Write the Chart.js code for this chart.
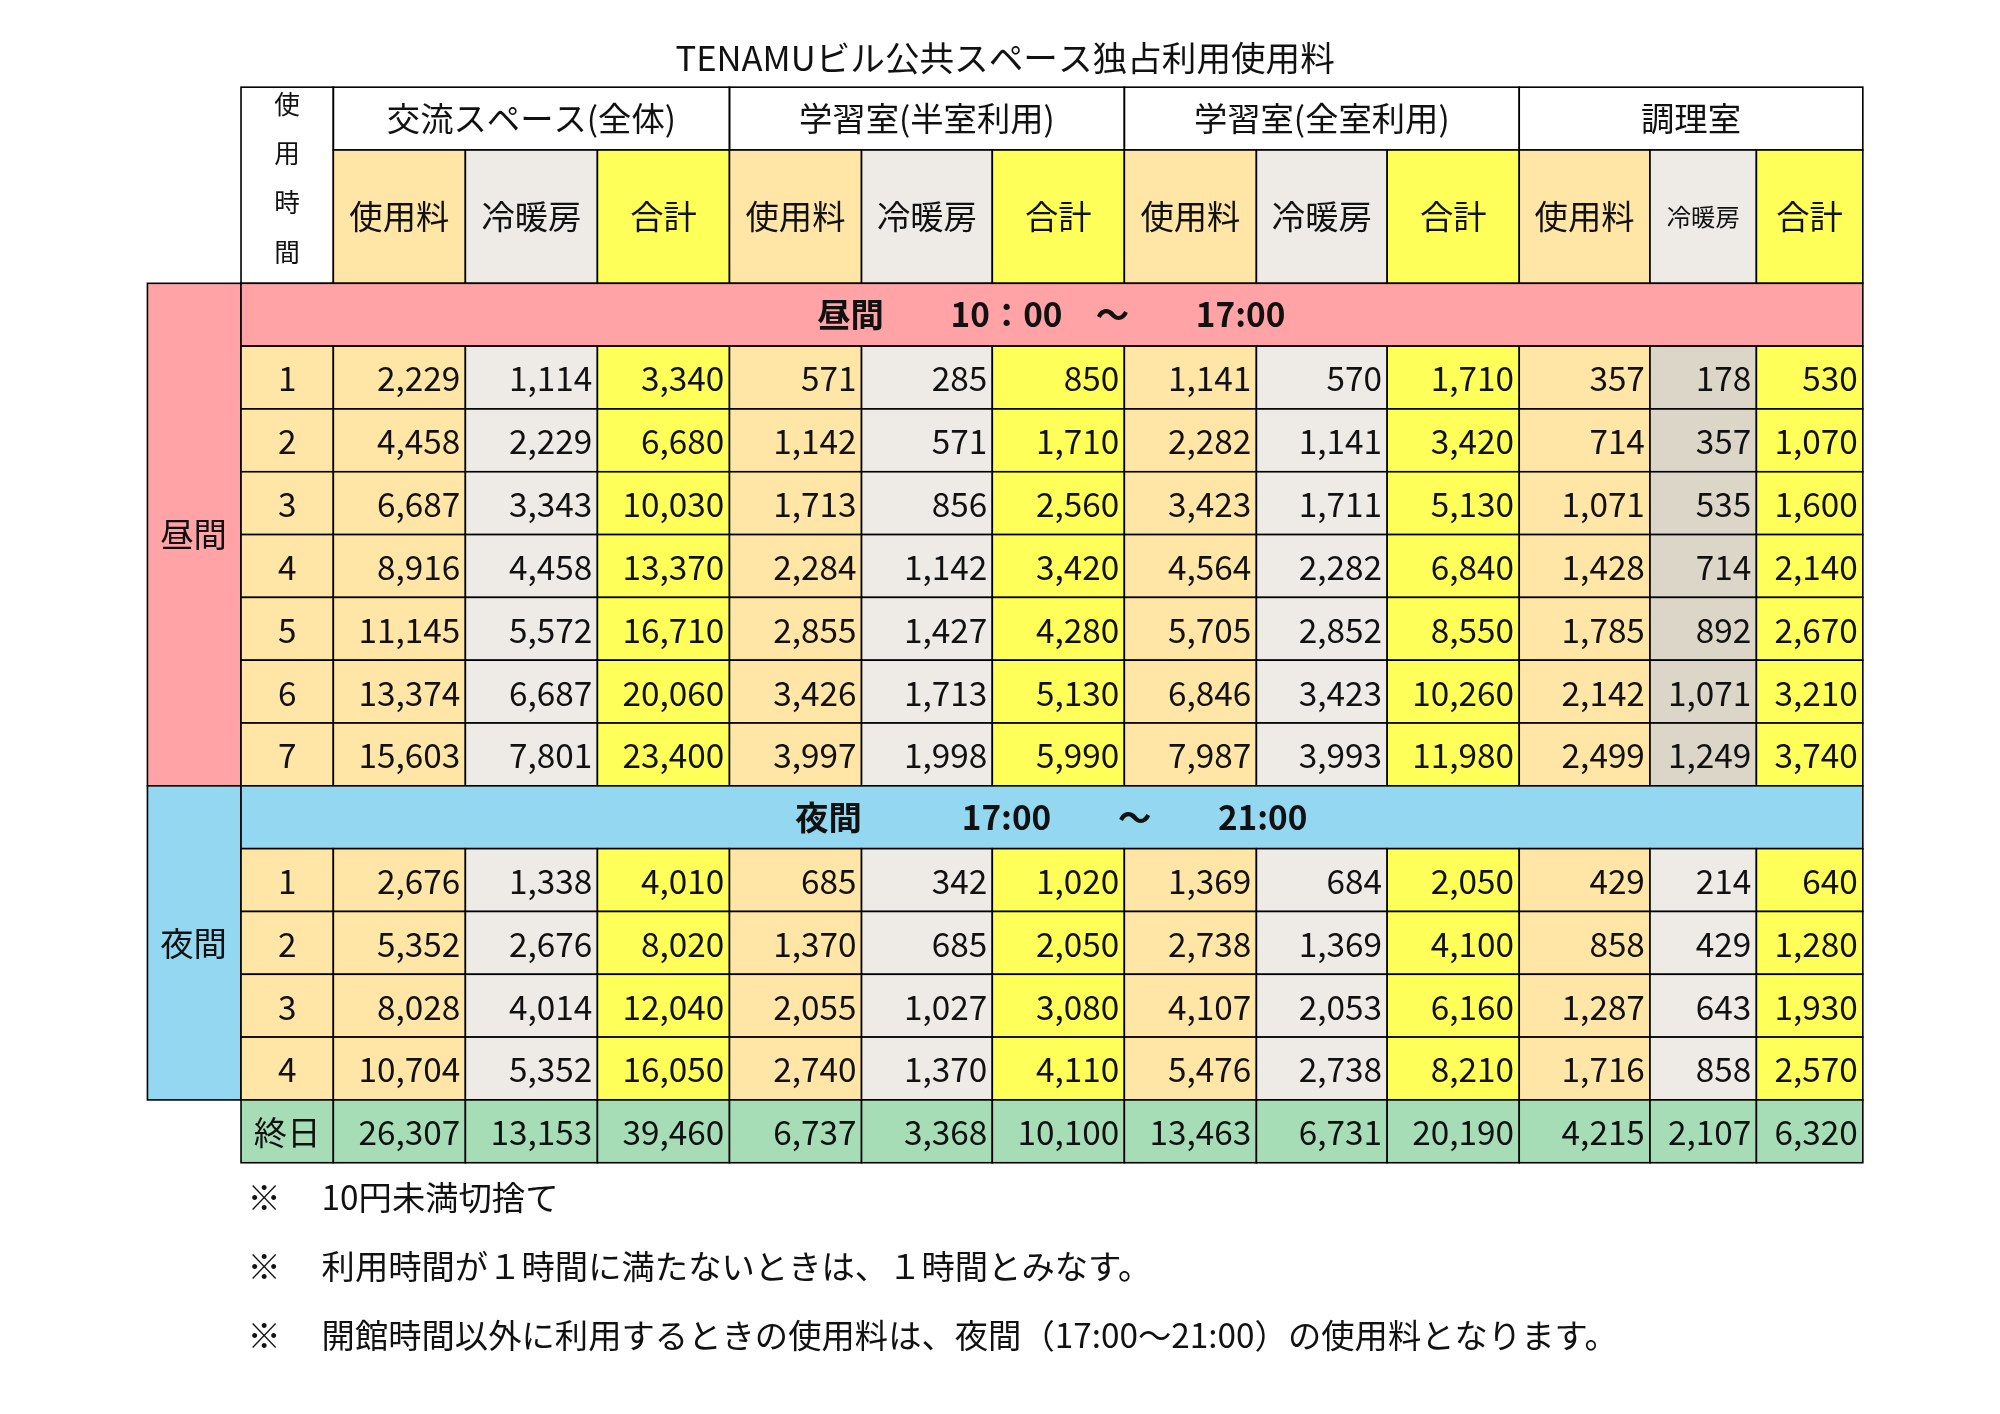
<!DOCTYPE html>
<html><head><meta charset="utf-8">
<script src="https://cdn.jsdelivr.net/npm/chart.js@4"></script>
<style>html,body{margin:0;background:#fff}canvas{display:block}</style>
</head><body>
<canvas id="c" width="2000" height="1414"></canvas>
<script>
const title = 'TENAMUビル公共スペース独占利用使用料';
const facilities = ['交流スペース(全体)','学習室(半室利用)','学習室(全室利用)','調理室'];
const subHeaders = ['使用料','冷暖房','合計'];
const dayBand = '昼間　　10：00　～　　17:00';
const nightBand = '夜間　　　17:00　　～　　21:00';
const dayHours = ['1','2','3','4','5','6','7'];
const nightHours = ['1','2','3','4'];
const dayValues = [
 ['2,229','1,114','3,340','571','285','850','1,141','570','1,710','357','178','530'],
 ['4,458','2,229','6,680','1,142','571','1,710','2,282','1,141','3,420','714','357','1,070'],
 ['6,687','3,343','10,030','1,713','856','2,560','3,423','1,711','5,130','1,071','535','1,600'],
 ['8,916','4,458','13,370','2,284','1,142','3,420','4,564','2,282','6,840','1,428','714','2,140'],
 ['11,145','5,572','16,710','2,855','1,427','4,280','5,705','2,852','8,550','1,785','892','2,670'],
 ['13,374','6,687','20,060','3,426','1,713','5,130','6,846','3,423','10,260','2,142','1,071','3,210'],
 ['15,603','7,801','23,400','3,997','1,998','5,990','7,987','3,993','11,980','2,499','1,249','3,740']];
const nightValues = [
 ['2,676','1,338','4,010','685','342','1,020','1,369','684','2,050','429','214','640'],
 ['5,352','2,676','8,020','1,370','685','2,050','2,738','1,369','4,100','858','429','1,280'],
 ['8,028','4,014','12,040','2,055','1,027','3,080','4,107','2,053','6,160','1,287','643','1,930'],
 ['10,704','5,352','16,050','2,740','1,370','4,110','5,476','2,738','8,210','1,716','858','2,570']];
const allDayLabel = '終日';
const allDayValues = ['26,307','13,153','39,460','6,737','3,368','10,100','13,463','6,731','20,190','4,215','2,107','6,320'];
const notes = ['※　 10円未満切捨て','※　 利用時間が１時間に満たないときは、１時間とみなす。','※　 開館時間以外に利用するときの使用料は、夜間（17:00～21:00）の使用料となります。'];

// layout (reference units, 1560 x 1103)
const colEdges = [188,260,363,466,569,672,774,877,980,1082,1185,1287,1370,1453];
const L = {sideL:115, top:68, grpB:117, subB:221, rowH:49};
const C = {use:'#FFE5A6', ac:'#EEEBE6', acDark:'#DCD6C8', sum:'#FFFF5A', pink:'#FFA3A6', blue:'#93D7F0', green:'#A6DDB7'};
const FONT = '"Noto Sans CJK JP","Noto Sans",sans-serif';

const tablePlugin = {
 id:'table',
 afterDraw(chart){
  const ctx = chart.ctx, xs = chart.scales.x, ys = chart.scales.y;
  const X = v=>xs.getPixelForValue(v), Y = v=>ys.getPixelForValue(v);
  const k = (X(1000)-X(0))/1000;
  function rect(x0,y0,x1,y1,fill){
   ctx.fillStyle=fill; ctx.fillRect(X(x0),Y(y0),X(x1)-X(x0),Y(y1)-Y(y0));
  }
  function box(x0,y0,x1,y1){ctx.strokeRect(X(x0),Y(y0),X(x1)-X(x0),Y(y1)-Y(y0));}
  function text(t,x,y,size,align,bold){
   ctx.font=(bold?'bold ':'')+(size*k)+'px '+FONT; ctx.textAlign=align||'center';
   ctx.textBaseline='middle'; ctx.fillStyle='#111'; ctx.fillText(t,X(x),Y(y));
  }
  ctx.save();
  ctx.strokeStyle='#000'; ctx.lineWidth=1.6;
  text(title,784,45,27,'center',false);
  // header
  box(colEdges[0],L.top,colEdges[1],L.subB);
  ['使','用','時','間'].forEach((c,i)=>text(c,224,81+i*38.5,20));
  for(let f=0;f<4;f++){
   const a=colEdges[1+f*3], b=colEdges[4+f*3];
   box(a,L.top,b,L.grpB); text(facilities[f],(a+b)/2,92,26);
   for(let s=0;s<3;s++){
    const x0=colEdges[1+f*3+s], x1=colEdges[2+f*3+s];
    rect(x0,L.grpB,x1,L.subB,[C.use,C.ac,C.sum][s]); box(x0,L.grpB,x1,L.subB);
    text(subHeaders[s],(x0+x1)/2,169,(f===3&&s===1)?19:26);
   }
  }
  function band(y,label,color){
   rect(colEdges[0],y,colEdges[13],y+L.rowH,color); box(colEdges[0],y,colEdges[13],y+L.rowH);
   text(label,820,y+L.rowH/2,26,'center',true);
  }
  function rows(y,hours,vals,dark,firstLabel,firstFill){
   vals.forEach((r,i)=>{
    const y0=y+i*L.rowH, y1=y0+L.rowH;
    rect(colEdges[0],y0,colEdges[1],y1,firstFill||C.use); box(colEdges[0],y0,colEdges[1],y1);
    text(hours?hours[i]:firstLabel,224,y0+L.rowH/2+1,26);
    r.forEach((v,j)=>{
     const x0=colEdges[1+j], x1=colEdges[2+j];
     let fill=firstFill||[C.use,C.ac,C.sum][j%3];
     if(!firstFill && dark && j===10) fill=C.acDark;
     rect(x0,y0,x1,y1,fill); box(x0,y0,x1,y1);
     text(v,x1-4,y0+L.rowH/2+1,26,'right');
    });
   });
  }
  const dayTop=L.subB, dayRowsTop=dayTop+L.rowH, nightTop=dayRowsTop+7*L.rowH, nightRowsTop=nightTop+L.rowH, allTop=nightRowsTop+4*L.rowH;
  rect(L.sideL,dayTop,colEdges[0],nightTop,C.pink); box(L.sideL,dayTop,colEdges[0],nightTop);
  text('昼間',151,(dayTop+nightTop)/2,26);
  rect(L.sideL,nightTop,colEdges[0],allTop,C.blue); box(L.sideL,nightTop,colEdges[0],allTop);
  text('夜間',151,(nightTop+allTop)/2,26);
  band(dayTop,dayBand,C.pink);
  rows(dayRowsTop,dayHours,dayValues,true);
  band(nightTop,nightBand,C.blue);
  rows(nightRowsTop,nightHours,nightValues,false);
  rows(allTop,null,[allDayValues],false,allDayLabel,C.green);
  notes.forEach((n,i)=>text(n,193,934+i*54,26,'left'));
  ctx.restore();
 }
};

new Chart(document.getElementById('c'),{
 type:'scatter',
 data:{datasets:[{data:[],pointRadius:0}]},
 options:{responsive:false,animation:false,devicePixelRatio:1,
  layout:{padding:0},
  plugins:{legend:{display:false},tooltip:{enabled:false}},
  scales:{x:{type:'linear',min:0,max:1560,display:false},
          y:{type:'linear',min:0,max:1103,reverse:true,display:false}}},
 plugins:[tablePlugin]
});
</script>
</body></html>
